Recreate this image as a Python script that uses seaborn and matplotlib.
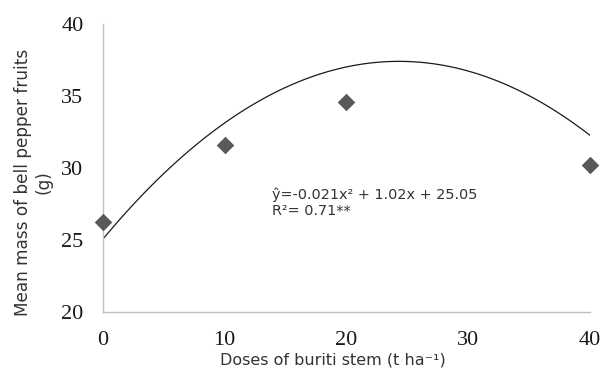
import numpy as np
import pandas as pd
import matplotlib
matplotlib.use("Agg")
import matplotlib.pyplot as plt
import seaborn as sns

# observed means
doses = [0, 10, 20, 40]
mass = [26.25, 31.6, 34.55, 30.2]

# trend curve heights
curve_x = [0, 5, 10, 15, 20, 25, 30, 35, 40]
curve_y = [25.05, 29.6, 33.2, 35.6, 37.0, 37.4, 36.7, 35.0, 32.3]

x_ticks = [0, 10, 20, 30, 40]
y_ticks = [20, 25, 30, 35, 40]

sns.set_style("white")
plt.rcParams['font.family'] = ['DejaVu Sans']

df = pd.DataFrame({"dose": doses, "mass": mass})
fit = pd.DataFrame({"dose": curve_x, "mass": curve_y})

fig = plt.figure(figsize=(6.04, 3.76), dpi=100)
ax = fig.add_axes([0.1705, 0.1702, 0.8063, 0.766])

sns.regplot(data=fit, x="dose", y="mass", order=2, ci=None, scatter=False,
            line_kws={"color": "#1a1a1a", "lw": 0.9}, ax=ax)
sns.scatterplot(data=df, x="dose", y="mass", marker="D", s=80,
                color="#595959", linewidth=0, ax=ax, zorder=3, clip_on=False)

ax.set_xlim(0, 40)
ax.set_ylim(20, 40)
ax.set_xticks(x_ticks)
ax.set_yticks(y_ticks)
ax.set_xticklabels([str(t) for t in x_ticks], family="Liberation Serif", fontsize=16, color="#1a1a1a")
ax.set_yticklabels([str(t) for t in y_ticks], family="Liberation Serif", fontsize=16, color="#1a1a1a")
for s in ["top", "right"]:
    ax.spines[s].set_visible(False)
for s in ["left", "bottom"]:
    ax.spines[s].set_color("#bfbfbf")
    ax.spines[s].set_linewidth(1.0)
ax.tick_params(axis="y", direction="out", length=5, width=1, color="#bfbfbf", pad=9)
ax.tick_params(axis="x", direction="out", length=5, width=1, color="#bfbfbf", pad=9)

ax.set_xlabel("Doses of buriti stem (t ha\u207b\u00b9)", fontsize=11.5, color="#333333")
ax.set_ylabel("Mean mass of bell pepper fruits\n(g)", fontsize=12.2, color="#333333",
              linespacing=1.2)
ax.xaxis.set_label_coords(0.473, -0.14)
ax.yaxis.set_label_coords(-0.103, 0.45)

ax.text(13.9, 28.65, "\u0177=-0.021x\u00b2 + 1.02x + 25.05\nR\u00b2= 0.71**",
        fontsize=10.4, color="#333333", va="top", ha="left", linespacing=1.15)

fig.savefig("out.png", dpi=100)
